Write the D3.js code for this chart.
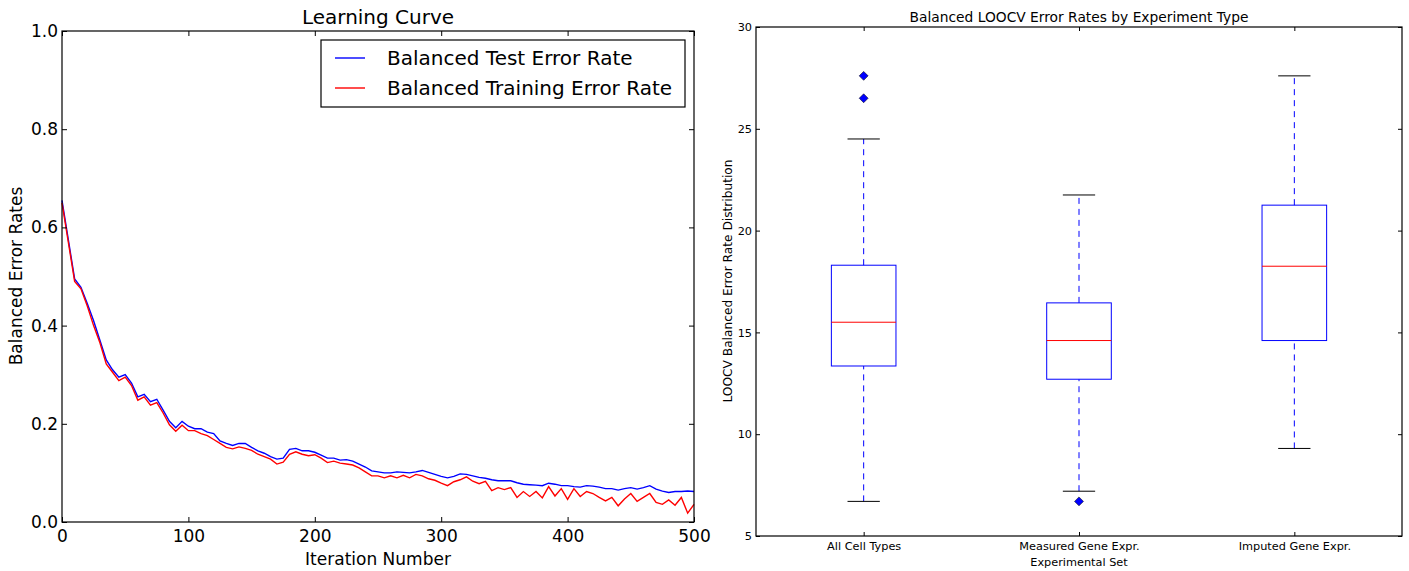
<!DOCTYPE html>
<html>
<head>
<meta charset="utf-8">
<script src="https://cdn.jsdelivr.net/npm/d3@7"></script>
<style>
  body { margin: 0; background: #fff; }
  text { font-family: "DejaVu Sans", sans-serif; fill: #000; }
</style>
</head>
<body>
<svg id="chart" width="1409" height="571"></svg>
<script>
// ---- Learning curve data (every 5 iterations) ----
const iterations = [
  0, 5, 10, 15, 20, 25, 30, 35, 40, 45, 50, 55, 60, 65, 70, 75, 80, 85, 90, 95,
  100, 105, 110, 115, 120, 125, 130, 135, 140, 145, 150, 155, 160, 165, 170, 175, 180, 185, 190, 195,
  200, 205, 210, 215, 220, 225, 230, 235, 240, 245, 250, 255, 260, 265, 270, 275, 280, 285, 290, 295,
  300, 305, 310, 315, 320, 325, 330, 335, 340, 345, 350, 355, 360, 365, 370, 375, 380, 385, 390, 395,
  400, 405, 410, 415, 420, 425, 430, 435, 440, 445, 450, 455, 460, 465, 470, 475, 480, 485, 490, 495, 500
];
const testError = [
  0.655, 0.575, 0.495, 0.478, 0.445, 0.410, 0.370, 0.330, 0.310, 0.295, 0.300, 0.283, 0.255, 0.260, 0.245, 0.250, 0.228, 0.205, 0.192, 0.205,
  0.195, 0.190, 0.190, 0.183, 0.180, 0.165, 0.160, 0.156, 0.160, 0.160, 0.152, 0.145, 0.140, 0.133, 0.128, 0.130, 0.148, 0.150, 0.145, 0.145,
  0.142, 0.136, 0.130, 0.130, 0.126, 0.127, 0.124, 0.118, 0.112, 0.104, 0.102, 0.100, 0.100, 0.102, 0.101, 0.100, 0.102, 0.105, 0.101, 0.097,
  0.093, 0.090, 0.093, 0.098, 0.097, 0.094, 0.091, 0.089, 0.086, 0.084, 0.084, 0.084, 0.080, 0.077, 0.076, 0.075, 0.074, 0.079, 0.077, 0.074,
  0.074, 0.072, 0.071, 0.074, 0.073, 0.071, 0.068, 0.068, 0.065, 0.068, 0.070, 0.067, 0.070, 0.074, 0.067, 0.063, 0.060, 0.062, 0.062, 0.063, 0.062
];
const trainError = [
  0.650, 0.570, 0.490, 0.475, 0.440, 0.400, 0.365, 0.322, 0.305, 0.288, 0.295, 0.278, 0.248, 0.255, 0.238, 0.243, 0.222, 0.198, 0.185, 0.197,
  0.186, 0.186, 0.180, 0.176, 0.168, 0.160, 0.152, 0.149, 0.153, 0.150, 0.146, 0.138, 0.133, 0.128, 0.118, 0.122, 0.138, 0.143, 0.138, 0.135,
  0.137, 0.130, 0.121, 0.124, 0.120, 0.118, 0.116, 0.110, 0.102, 0.094, 0.094, 0.090, 0.094, 0.090, 0.095, 0.090, 0.097, 0.094, 0.088, 0.085,
  0.079, 0.074, 0.082, 0.086, 0.092, 0.083, 0.078, 0.083, 0.064, 0.070, 0.066, 0.070, 0.050, 0.062, 0.052, 0.062, 0.049, 0.072, 0.053, 0.068,
  0.046, 0.068, 0.052, 0.062, 0.058, 0.050, 0.043, 0.050, 0.033, 0.047, 0.058, 0.042, 0.050, 0.058, 0.040, 0.036, 0.045, 0.034, 0.050, 0.018, 0.036
];
const seriesNames = ["Balanced Test Error Rate", "Balanced Training Error Rate"];
const seriesColors = ["#0000ff", "#ff0000"];
const iterTicks = [0, 100, 200, 300, 400, 500];
const errorTicks = [0.0, 0.2, 0.4, 0.6, 0.8, 1.0];

// ---- Boxplot data ----
const boxCategories = ["All Cell Types", "Measured Gene Expr.", "Imputed Gene Expr."];
const boxLow = [6.7, 7.2, 9.3];
const boxQ1 = [13.35, 12.7, 14.6];
const boxMedian = [15.5, 14.6, 18.25];
const boxQ3 = [18.3, 16.45, 21.25];
const boxHigh = [24.5, 21.75, 27.6];
const boxOutliers = [[26.5, 27.6], [6.7], []];
const looTicks = [5, 10, 15, 20, 25, 30];

const svg = d3.select("#chart");

// small helper: inward ticks on all four sides plus a frame
function frame(g, x, y, xTicks, yTicks, xFmt, yFmt, fontSize, xPad, yPad, tick) {
  const [x0, x1] = x.range();
  const [y0, y1] = y.range();
  const bottom = g.append("g").attr("transform", `translate(0,${y0})`)
    .call(d3.axisBottom(x).tickValues(xTicks).tickSize(-tick).tickPadding(xPad).tickFormat(xFmt));
  const left = g.append("g").attr("transform", `translate(${x0},0)`)
    .call(d3.axisLeft(y).tickValues(yTicks).tickSize(-tick).tickPadding(yPad).tickFormat(yFmt));
  g.append("g").attr("transform", `translate(0,${y1})`)
    .call(d3.axisTop(x).tickValues(xTicks).tickSize(-tick).tickFormat(""));
  g.append("g").attr("transform", `translate(${x1},0)`)
    .call(d3.axisRight(y).tickValues(yTicks).tickSize(-tick).tickFormat(""));
  g.selectAll(".domain").remove();
  g.selectAll(".tick line").attr("stroke", "#000").attr("stroke-width", 1);
  [bottom, left].forEach(a => a.selectAll("text")
    .style("font-family", "'DejaVu Sans', sans-serif").style("font-size", fontSize + "px").attr("fill", "#000"));
  g.append("rect")
    .attr("x", x0).attr("y", y1)
    .attr("width", x1 - x0).attr("height", y0 - y1)
    .attr("fill", "none").attr("stroke", "#000").attr("stroke-width", 1.2);
  return {bottom, left};
}

// ================= Left: learning curve =================
const xL = d3.scaleLinear().domain([0, 500]).range([62, 694]);
const yL = d3.scaleLinear().domain([0, 1]).range([522, 31]);
const gL = svg.append("g");

const line = vals => d3.line()
  .x((d, i) => xL(iterations[i]))
  .y(d => yL(d))(vals);

gL.append("path").attr("d", line(testError))
  .attr("fill", "none").attr("stroke", seriesColors[0]).attr("stroke-width", 1.4);
gL.append("path").attr("d", line(trainError))
  .attr("fill", "none").attr("stroke", seriesColors[1]).attr("stroke-width", 1.4);

frame(gL, xL, yL, iterTicks, errorTicks, d3.format("d"), d3.format(".1f"), 17, 8, 4, 5);

gL.append("text").attr("x", 378).attr("y", 24).attr("text-anchor", "middle")
  .style("font-size", "20px").text("Learning Curve");
gL.append("text").attr("x", 378).attr("y", 565).attr("text-anchor", "middle")
  .style("font-size", "17px").text("Iteration Number");
gL.append("text").attr("transform", "translate(22,276) rotate(-90)").attr("text-anchor", "middle")
  .style("font-size", "17px").text("Balanced Error Rates");

// legend
const leg = gL.append("g");
leg.append("rect").attr("x", 321).attr("y", 40).attr("width", 364).attr("height", 67)
  .attr("fill", "#fff").attr("stroke", "#000").attr("stroke-width", 1.2);
seriesNames.forEach((name, i) => {
  const ly = 58 + i * 30;
  leg.append("line").attr("x1", 335).attr("x2", 365).attr("y1", ly).attr("y2", ly)
    .attr("stroke", seriesColors[i]).attr("stroke-width", 1.4);
  leg.append("text").attr("x", 387).attr("y", ly).attr("dy", "0.36em")
    .style("font-size", "20px").text(name);
});

// ================= Right: boxplot =================
const xR = d3.scaleLinear().domain([0.5, 3.5]).range([756, 1402]);
const yR = d3.scaleLinear().domain([5, 30]).range([536, 27]);
const gR = svg.append("g");
const boxW = 0.3;

boxCategories.forEach((cat, i) => {
  const pos = i + 1;
  const cx = xR(pos);
  const bx0 = xR(pos - boxW / 2), bx1 = xR(pos + boxW / 2);
  const cx0 = xR(pos - boxW / 4), cx1 = xR(pos + boxW / 4);

  // whiskers
  [[boxLow[i], boxQ1[i]], [boxQ3[i], boxHigh[i]]].forEach(([a, b]) => {
    gR.append("line").attr("x1", cx).attr("x2", cx)
      .attr("y1", yR(a)).attr("y2", yR(b))
      .attr("stroke", "#0000ff").attr("stroke-dasharray", "6,5").attr("stroke-width", 1);
  });
  // caps
  [boxLow[i], boxHigh[i]].forEach(v => {
    gR.append("line").attr("x1", cx0).attr("x2", cx1)
      .attr("y1", yR(v)).attr("y2", yR(v))
      .attr("stroke", "#000").attr("stroke-width", 1);
  });
  // box
  gR.append("rect").attr("x", bx0).attr("y", yR(boxQ3[i]))
    .attr("width", bx1 - bx0).attr("height", yR(boxQ1[i]) - yR(boxQ3[i]))
    .attr("fill", "none").attr("stroke", "#0000ff").attr("stroke-width", 1);
  // median
  gR.append("line").attr("x1", bx0).attr("x2", bx1)
    .attr("y1", yR(boxMedian[i])).attr("y2", yR(boxMedian[i]))
    .attr("stroke", "#ff0000").attr("stroke-width", 1);
  // outliers (diamonds)
  boxOutliers[i].forEach(v => {
    gR.append("path").attr("d", d3.symbol(d3.symbolSquare, 40)())
      .attr("transform", `translate(${cx},${yR(v)}) rotate(45)`)
      .attr("fill", "#0000ff").attr("stroke", "#000").attr("stroke-width", 0.5);
  });
});

frame(gR, xR, yR, [1, 2, 3], looTicks, d => boxCategories[d - 1], d3.format("d"), 11.3, 6, 4, 4);

gR.append("text").attr("x", 1079).attr("y", 22).attr("text-anchor", "middle")
  .style("font-size", "13.8px").text("Balanced LOOCV Error Rates by Experiment Type");
gR.append("text").attr("x", 1079).attr("y", 566).attr("text-anchor", "middle")
  .style("font-size", "11.3px").text("Experimental Set");
gR.append("text").attr("transform", "translate(732,281) rotate(-90)").attr("text-anchor", "middle")
  .style("font-size", "12.2px").text("LOOCV Balanced Error Rate Distribution");
</script>
</body>
</html>
